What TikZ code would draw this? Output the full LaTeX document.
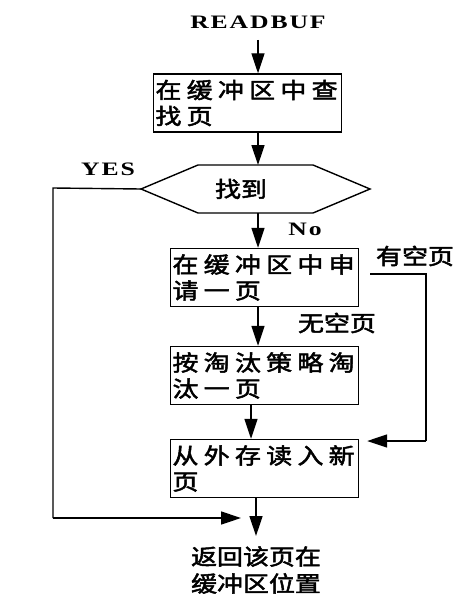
\documentclass[tikz,border=0pt]{standalone}
\usepackage{fontspec}
\usetikzlibrary{arrows.meta}
\newfontfamily\cjk[FakeStretch=1.18,FakeBold=2.2]{Noto Sans CJK SC}
\newfontfamily\cjksp[FakeStretch=1.18,FakeBold=2.2,LetterSpace=24]{Noto Sans CJK SC}
\newfontfamily\lat[FakeStretch=1.35,LetterSpace=10]{Liberation Serif}
\tikzset{
  proc/.style={draw,line width=1.4pt,rectangle,minimum width=188pt,minimum height=58pt,
    inner sep=2pt,text width=184pt,align=left,font=\cjksp\fontsize{22}{26}\selectfont},
  lbl/.style={inner sep=0pt,font=\cjk\fontsize{22}{26}\selectfont},
  en/.style={inner sep=0pt,font=\lat\bfseries\fontsize{19}{22}\selectfont},
  conn/.style={line width=1.4pt},
  arr/.style={line width=1.4pt,-{Triangle[length=20pt,width=13pt]}}
}
\begin{document}
\begin{tikzpicture}[x=1pt,y=-1pt]
\useasboundingbox (0,0) rectangle (474,602);
\node[en] (start) at (258,22) {READBUF};
\node[proc] (b1) at (247.5,103) {在缓冲区中查\\找页};
% hexagon
\coordinate (hL) at (141,189);
\coordinate (hR) at (370,189);
\coordinate (hT) at (258,165);
\coordinate (hB) at (258,213);
\draw[line width=1.4pt] (hL) -- (198,165) -- (313,165) -- (hR) -- (313,213) -- (198,213) -- cycle;
\node[lbl] (found) at (241,189) {找到};
\node[en] (yes) at (108,169) {YES};
\node[en] (no) at (305,229) {No};
\node[proc] (b2) at (264.5,277.5) {在缓冲区中申\\请一页};
\node[proc] (b3) at (264.5,375.5) {按淘汰策略淘\\汰一页};
\node[proc] (b4) at (264.5,468.5) {从外存读入新\\页};
\node[lbl] (free) at (415,256) {有空页};
\node[lbl] (nofree) at (337,323) {无空页};
\node[lbl,align=center,font=\cjk\fontsize{22}{27}\selectfont] (ret) at (256,570) {返回该页在\\缓冲区位置};
\coordinate (r1) at (426,274);
\coordinate (r2) at (426,441);
\coordinate (l1) at (53,188);
\coordinate (l2) at (53,518);
\coordinate (join) at (241,518);
% connectors
\draw[arr] (start.south|-0,40) -- (b1.north-|start);
\draw[arr] (b1.south-|hT) -- (hT);
\draw[arr] (hB) -- (b2.north-|hB);
\draw[arr] (b2.south-|hB) -- (b3.north-|hB);
\draw[arr] (b3.south-|251,0) -- (b4.north-|251,0);
\draw[arr] (b4.south-|256,0) -- (256,536);
\draw[conn] (hL) -- (l1) -- (l2);
\draw[arr] (l2) -- (join);
\draw[conn] (370,274) -- (r1) -- (r2);
\draw[arr,shorten >=8pt] (r2) -- (b4.east|-r2);
\end{tikzpicture}
\end{document}
